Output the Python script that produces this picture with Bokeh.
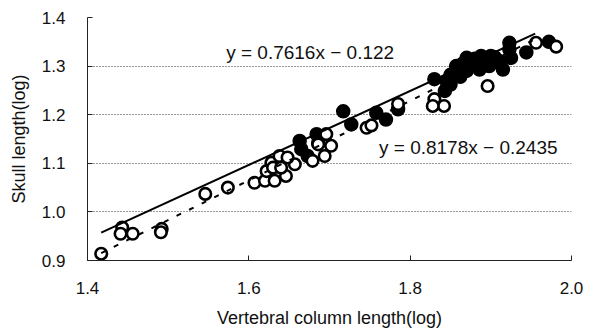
from bokeh.plotting import figure
from bokeh.models import Range1d, FixedTicker, PrintfTickFormatter, Label, ColumnDataSource
from bokeh.embed import file_html
from bokeh.resources import INLINE
import numpy as np

# Open circles (series A)
open_x = [1.417, 1.443, 1.441, 1.456, 1.492, 1.491, 1.546, 1.574, 1.607, 1.620,
          1.632, 1.622, 1.628, 1.638, 1.630, 1.646, 1.657, 1.679, 1.694, 1.702,
          1.696, 1.686, 1.746, 1.752, 1.785, 1.830, 1.842, 1.828, 1.896, 1.956,
          1.981, 1.648, 1.640]
open_y = [0.914, 0.968, 0.955, 0.955, 0.965, 0.958, 1.037, 1.050, 1.060, 1.064,
          1.064, 1.084, 1.101, 1.115, 1.091, 1.074, 1.098, 1.105, 1.115, 1.136,
          1.160, 1.139, 1.173, 1.178, 1.222, 1.232, 1.218, 1.218, 1.259, 1.348,
          1.340, 1.112, 1.091]

# Filled circles (series B)
fill_x = [1.663, 1.665, 1.673, 1.684, 1.686, 1.717, 1.727, 1.758, 1.770, 1.785,
          1.830, 1.843, 1.850, 1.857, 1.857, 1.862, 1.870, 1.870, 1.878, 1.886,
          1.888, 1.898, 1.900, 1.911, 1.915, 1.923, 1.923, 1.925, 1.944, 1.972,
          1.850, 1.865, 1.880, 1.893, 1.905, 1.845]
fill_y = [1.146, 1.129, 1.115, 1.160, 1.142, 1.207, 1.180, 1.204, 1.190, 1.211,
          1.273, 1.249, 1.262, 1.300, 1.287, 1.278, 1.317, 1.290, 1.307, 1.293,
          1.321, 1.300, 1.321, 1.310, 1.293, 1.348, 1.334, 1.317, 1.328, 1.350,
          1.282, 1.305, 1.315, 1.310, 1.318, 1.270]

# Trend lines (slope, intercept) and their x span
solid_fit = (0.7616, -0.122)
dashed_fit = (0.8178, -0.2435)
fit_span = [1.417, 1.955]

x_ticks = [1.4, 1.6, 1.8, 2.0]
y_ticks = [0.9, 1.0, 1.1, 1.2, 1.3, 1.4]

FONT = "Liberation Sans"

p = figure(width=610, height=334, output_backend="svg", toolbar_location=None,
           x_range=Range1d(1.4, 2.0), y_range=Range1d(0.9, 1.4),
           min_border_left=87, min_border_right=39, min_border_top=17,
           min_border_bottom=74)
p.outline_line_color = None
p.background_fill_color = "white"
p.border_fill_color = "white"

p.xgrid.visible = False
p.ygrid.grid_line_color = "#333333"
p.ygrid.grid_line_dash = "1 2"
p.ygrid.grid_line_width = 1

for ax in (p.xaxis[0], p.yaxis[0]):
    ax.major_tick_in = 5
    ax.major_tick_out = 0
    ax.minor_tick_line_color = None
    ax.axis_line_color = "#222222"
    ax.major_tick_line_color = "#222222"
    ax.major_label_text_font = FONT
    ax.major_label_text_font_size = "17px"
    ax.major_label_text_color = "#111111"
    ax.axis_label_text_font = FONT
    ax.axis_label_text_font_size = "18px"
    ax.axis_label_text_font_style = "normal"
    ax.axis_label_text_color = "#111111"
    ax.formatter = PrintfTickFormatter(format="%.1f")

p.xaxis.ticker = FixedTicker(ticks=x_ticks)
p.yaxis.ticker = FixedTicker(ticks=y_ticks)
p.xaxis.major_label_standoff = 21
p.yaxis.major_label_standoff = 22
p.xaxis.axis_label_standoff = 11
p.yaxis.axis_label_standoff = 10
p.xaxis.axis_label = "Vertebral column length(log)"
p.yaxis.axis_label = "Skull length(log)"

src_f = ColumnDataSource(dict(x=fill_x, y=fill_y))
src_o = ColumnDataSource(dict(x=open_x, y=open_y))
p.scatter("x", "y", source=src_f, size=13, marker="circle",
          fill_color="black", line_color="black", line_width=1.5)
p.scatter("x", "y", source=src_o, size=11.5, marker="circle",
          fill_color="white", line_color="black", line_width=2.6)

xs = np.array(fit_span)
p.line(xs, solid_fit[0] * xs + solid_fit[1], line_color="black", line_width=2)
p.line(xs, dashed_fit[0] * xs + dashed_fit[1], line_color="black", line_width=2,
       line_dash="5 9")

p.add_layout(Label(x=1.676, y=1.329, text="y = 0.7616x − 0.122",
                   text_align="center", text_baseline="middle",
                   text_font=FONT, text_font_size="19px", text_color="#111111"))
p.add_layout(Label(x=1.872, y=1.132, text="y = 0.8178x − 0.2435",
                   text_align="center", text_baseline="middle",
                   text_font=FONT, text_font_size="19px", text_color="#111111"))

open("out.html", "w").write(file_html(p, INLINE))
